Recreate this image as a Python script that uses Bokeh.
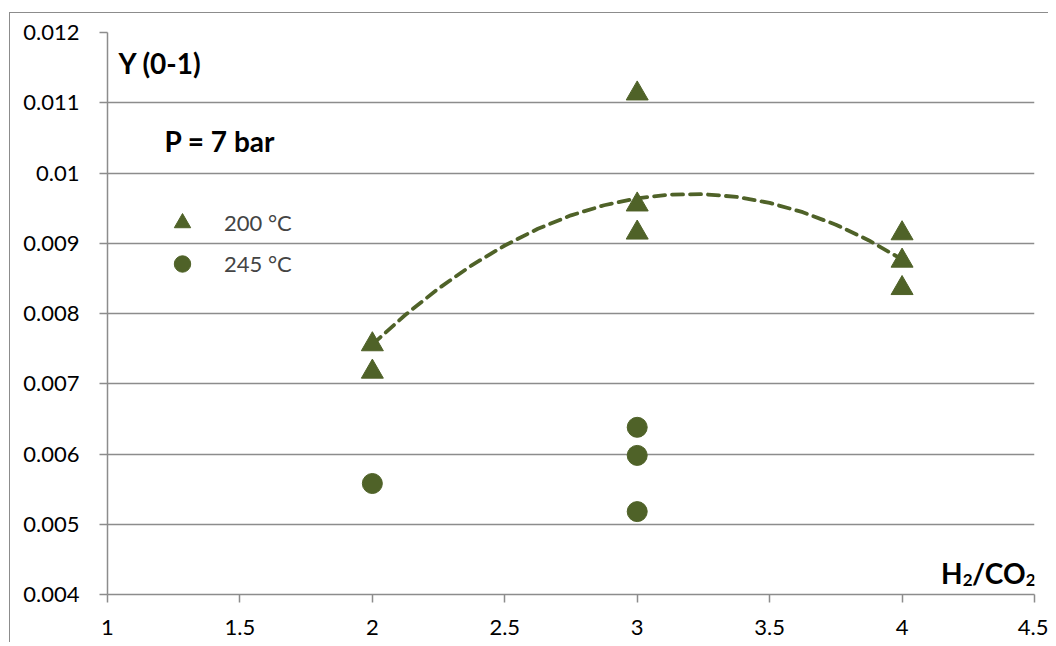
from bokeh.plotting import figure
from bokeh.models import (FixedTicker, CustomJSTickFormatter, Legend, LegendItem,
                          Label, Range1d)
from bokeh.embed import file_html
from bokeh.resources import INLINE

# ---- data ----
x_200 = [2, 2, 3, 3, 3, 4, 4, 4]
y_200 = [0.00756, 0.00717, 0.01113, 0.00955, 0.00915, 0.00914, 0.00875, 0.00836]
x_245 = [2, 3, 3, 3]
y_245 = [0.00558, 0.00638, 0.00598, 0.00518]

# dashed trend line (200 °C)
trend_x = [2.0, 2.125, 2.25, 2.375, 2.5, 2.625, 2.75, 2.875, 3.0,
           3.125, 3.25, 3.375, 3.5, 3.625, 3.75, 3.875, 4.0]
trend_y = [0.00756, 0.007982, 0.008356, 0.008686, 0.008968, 0.009206, 0.009397,
           0.009541, 0.00964, 0.009693, 0.009699, 0.00966, 0.009574, 0.009442,
           0.009264, 0.00904, 0.00877]

x_ticks = [1, 1.5, 2, 2.5, 3, 3.5, 4, 4.5]
y_ticks = [0.004, 0.005, 0.006, 0.007, 0.008, 0.009, 0.010, 0.011, 0.012]

series_labels = ["200 °C", "245 °C"]
y_title = "Y (0-1)"
note = "P = 7 bar"
# x title "H2/CO2" with subscripts, as pieces: (text, is_subscript)
x_title_parts = [("H", False), ("2", True), ("/CO", False), ("2", True)]

OLIVE = "#4f6228"
GRID = "#8c8c8c"
FONT = "Lato"

p = figure(width=1039, height=630, output_backend="svg", toolbar_location=None,
           x_range=Range1d(1, 4.5), y_range=Range1d(0.004, 0.012),
           min_border_left=97, min_border_right=15, min_border_top=19,
           min_border_bottom=49)
p.margin = (12, 0, 0, 9)
p.styles = {"border-left": "1.5px solid #8c8c8c", "border-top": "1.5px solid #8c8c8c"}
p.outline_line_color = None
p.background_fill_color = "white"
p.border_fill_color = "white"

p.xgrid.grid_line_color = None
p.ygrid.grid_line_color = GRID
p.ygrid.grid_line_width = 1.5

fmt = CustomJSTickFormatter(code="return String(parseFloat(tick.toFixed(4)));")
for ax, ticks in ((p.xaxis[0], x_ticks), (p.yaxis[0], y_ticks)):
    ax.ticker = FixedTicker(ticks=ticks)
    ax.formatter = fmt
    ax.axis_line_color = GRID
    ax.axis_line_width = 1.5
    ax.major_tick_line_color = GRID
    ax.major_tick_line_width = 1.5
    ax.major_tick_in = 0
    ax.major_tick_out = 8
    ax.minor_tick_line_color = None
    ax.major_label_text_font = FONT
    ax.major_label_text_font_size = "22px"
    ax.major_label_text_color = "black"
p.yaxis[0].major_label_standoff = 20
p.xaxis[0].major_label_standoff = 17

p.line(trend_x, trend_y, line_color=OLIVE, line_width=3.8, line_dash="11 7",
       line_cap="round")
r1 = p.scatter(x_200, y_200, marker="triangle", size=22, fill_color=OLIVE,
               line_color=OLIVE)
r2 = p.scatter(x_245, y_245, marker="circle", size=20, fill_color=OLIVE,
               line_color=OLIVE)

legend = Legend(items=[LegendItem(label=series_labels[0], renderers=[r1]),
                       LegendItem(label=series_labels[1], renderers=[r2])],
                location=(54, 310), glyph_width=42, glyph_height=41, spacing=0,
                padding=0, margin=0, label_standoff=21, border_line_color=None,
                background_fill_alpha=0, label_text_font=FONT,
                label_text_font_size="22px", label_text_baseline="middle")
p.add_layout(legend)

p.add_layout(Label(x=1.042, y=0.01156, text=y_title, text_font=FONT,
                   text_font_style="bold", text_font_size="28px",
                   text_baseline="middle", text_color="black"))
p.add_layout(Label(x=1.215, y=0.01045, text=note, text_font=FONT,
                   text_font_style="bold", text_font_size="28px",
                   text_baseline="middle", text_color="black"))

# right edges of each piece (px from plot right edge)
part_right_px = [-72, -62, -9, 1]
for (txt, sub), dx in zip(x_title_parts, part_right_px):
    p.add_layout(Label(x=4.5, y=0.0042 if sub else 0.0043, x_offset=dx, text=txt,
                       text_font=FONT, text_font_style="bold",
                       text_font_size="17px" if sub else "28px",
                       text_baseline="alphabetic", text_align="right",
                       text_color="black"))

open("out.html", "w").write(file_html(p, INLINE))
